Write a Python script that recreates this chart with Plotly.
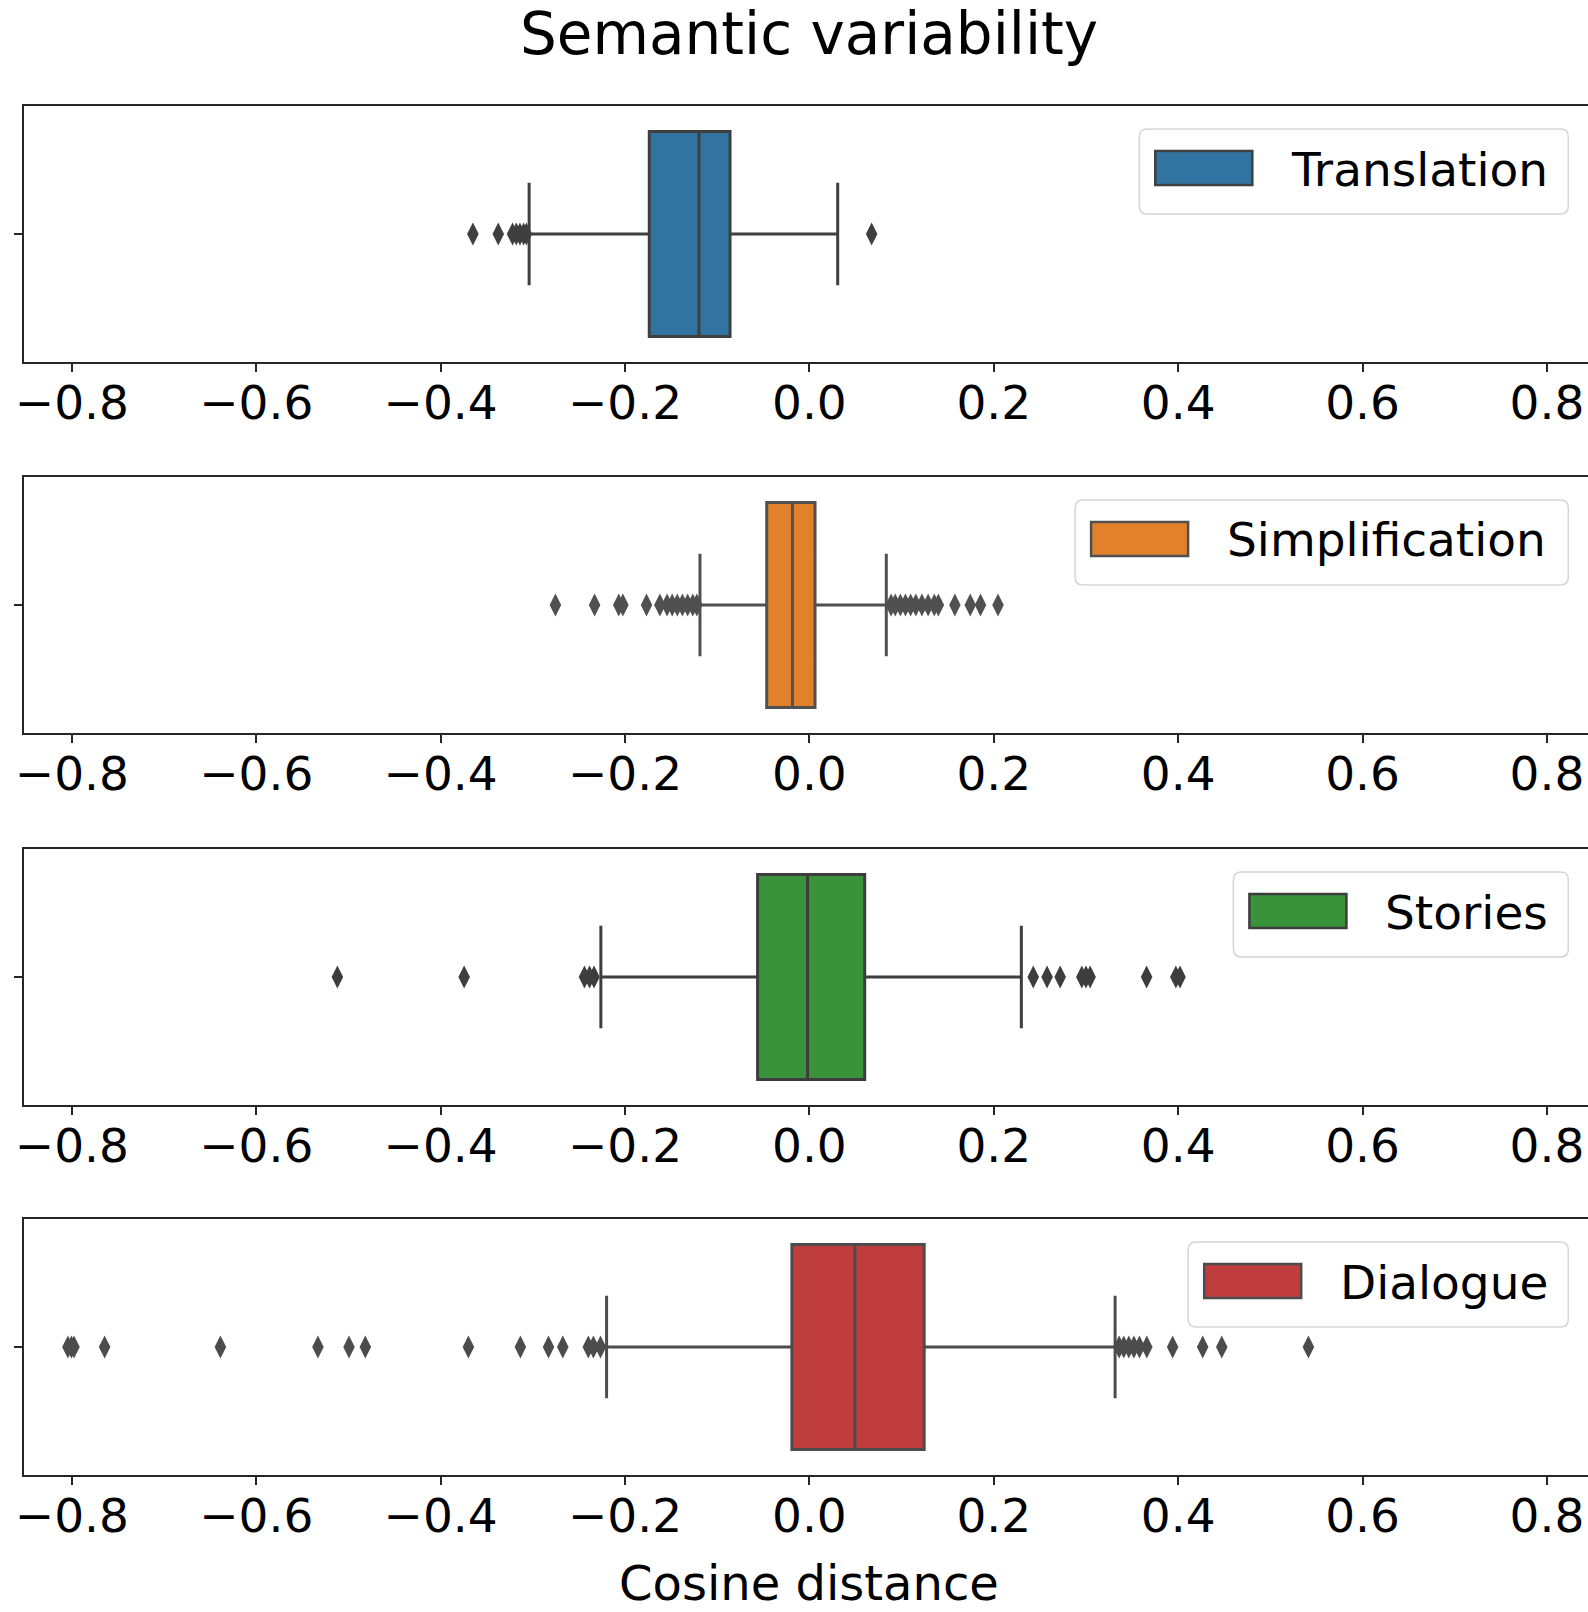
import plotly.graph_objects as go

# ---------------- data ----------------
categories = ["Translation", "Simplification", "Stories", "Dialogue"]

q1 = [-0.1737, -0.0463, -0.0562, -0.0190]
median = [-0.1198, -0.0184, -0.0020, 0.0493]
q3 = [-0.0861, 0.0061, 0.0600, 0.1245]
whisker_low = [-0.3040, -0.1187, -0.2262, -0.2200]
whisker_high = [0.0307, 0.0834, 0.2299, 0.3316]

outliers_translation = [-0.365, -0.3375, -0.322, -0.318, -0.314, -0.310, -0.307, 0.0675]
outliers_simplification = [-0.2755, -0.2330, -0.2068, -0.2023, -0.1767, -0.1622, -0.1544,
                           -0.1488, -0.1433, -0.1377, -0.1321, -0.1265, -0.1221,
                           0.0886, 0.0931, 0.0987, 0.1042, 0.1098, 0.1154, 0.1221, 0.1288,
                           0.1355, 0.1399, 0.1578, 0.1745, 0.1856, 0.2046]
outliers_stories = [-0.512, -0.3745, -0.2440, -0.2385, -0.2336,
                    0.2428, 0.2578, 0.2720, 0.2955, 0.3000, 0.3045, 0.3658, 0.3975, 0.4020]
outliers_dialogue = [-0.8043, -0.8005, -0.7977, -0.7645, -0.6389, -0.5331, -0.4994, -0.4817,
                     -0.3699, -0.3135, -0.2830, -0.2675, -0.2398, -0.2343, -0.2266,
                     0.3360, 0.3410, 0.3465, 0.3520, 0.3580, 0.3660, 0.3940, 0.4266,
                     0.4473, 0.5413]
outliers = [outliers_translation, outliers_simplification, outliers_stories, outliers_dialogue]

x_tick_values = [-0.8, -0.6, -0.4, -0.2, 0.0, 0.2, 0.4, 0.6, 0.8]
x_tick_labels = ["\u22120.8", "\u22120.6", "\u22120.4", "\u22120.2", "0.0", "0.2", "0.4", "0.6", "0.8"]

title_text = "Semantic variability"
x_label = "Cosine distance"

# ---------------- style / layout ----------------
colors = ["#3274a1", "#e1812c", "#3a923a", "#c03d3e"]
line_colors = ["#3f3f3f", "#505050", "#3d3d3d", "#4c4c4c"]
FONT = "DejaVu Sans"
OFF = 0                      # page body margin (removed by post_script)
W, H = 1588 - 2 * OFF, 1612 - 2 * OFF
panel_tops = [106, 477, 849, 1219]   # positions in page pixels
panel_h = 256
x_left_px = 23.6
x_right_px = OFF + W
x_per_unit = 921.9
x_zero_px = 809.4
x_range = [(x_left_px - x_zero_px) / x_per_unit, (x_right_px - x_zero_px) / x_per_unit]
legend_left_px = [1139.3, 1075.1, 1233.4, 1188.2]
legend_right_px = 1568.3


def px(x):
    return (x - OFF) / W


def py(y):
    return 1 - (y - OFF) / H


fig = go.Figure()
layout_axes = {}
for i, cat in enumerate(categories):
    n = i + 1
    xa = "x" if n == 1 else f"x{n}"
    ya = "y" if n == 1 else f"y{n}"
    fig.add_trace(go.Box(
        orientation="h", y=[cat],
        q1=[q1[i]], median=[median[i]], q3=[q3[i]],
        lowerfence=[whisker_low[i]], upperfence=[whisker_high[i]],
        width=0.8, whiskerwidth=0.5, boxpoints=False,
        fillcolor=colors[i], line=dict(color=line_colors[i], width=3),
        xaxis=xa, yaxis=ya, name=cat, hoverinfo="skip",
    ))
    fig.add_trace(go.Scatter(
        x=outliers[i], y=[cat] * len(outliers[i]), mode="markers",
        marker=dict(symbol="diamond-tall", size=16.5, color=line_colors[i], line=dict(width=0)),
        xaxis=xa, yaxis=ya, name=cat, hoverinfo="skip",
    ))
    top = panel_tops[i]
    dom_y = [py(top + panel_h), py(top)]
    xkey = "xaxis" if n == 1 else f"xaxis{n}"
    ykey = "yaxis" if n == 1 else f"yaxis{n}"
    layout_axes[xkey] = dict(
        domain=[px(x_left_px), 1.0], range=x_range, anchor=ya, automargin=False,
        tickvals=x_tick_values, ticktext=x_tick_labels, ticklabeloverflow="allow",
        showline=True, mirror=True, linecolor="#262626", linewidth=2,
        ticks="outside", ticklen=8, tickwidth=2, tickcolor="#262626",
        ticklabelstandoff=-9,
        tickfont=dict(family=FONT, size=47, color="black"),
        showgrid=False, zeroline=False, fixedrange=True,
    )
    layout_axes[ykey] = dict(
        domain=dom_y, range=[-0.5, 0.5], anchor=xa, type="category", automargin=False,
        showticklabels=False,
        showline=True, mirror=False, linecolor="#262626", linewidth=2,
        ticks="outside", ticklen=8, tickwidth=2, tickcolor="#262626",
        showgrid=False, zeroline=False, fixedrange=True,
    )

shapes = []
annotations = []


def rrect_path(x0, y0, x1, y1, r):
    pts = [
        f"M {px(x0 + r)},{py(y0)}",
        f"L {px(x1 - r)},{py(y0)}",
        f"Q {px(x1)},{py(y0)} {px(x1)},{py(y0 + r)}",
        f"L {px(x1)},{py(y1 - r)}",
        f"Q {px(x1)},{py(y1)} {px(x1 - r)},{py(y1)}",
        f"L {px(x0 + r)},{py(y1)}",
        f"Q {px(x0)},{py(y1)} {px(x0)},{py(y1 - r)}",
        f"L {px(x0)},{py(y0 + r)}",
        f"Q {px(x0)},{py(y0)} {px(x0 + r)},{py(y0)}",
        "Z",
    ]
    return " ".join(pts)


for i, cat in enumerate(categories):
    top = panel_tops[i]
    lx0 = legend_left_px[i]
    shapes.append(dict(
        type="path", xref="paper", yref="paper",
        path=rrect_path(lx0, top + 23, legend_right_px, top + 108, 8),
        fillcolor="rgba(255,255,255,0.8)", line=dict(color="#d5d5d5", width=1.5), layer="above",
    ))
    shapes.append(dict(
        type="rect", xref="paper", yref="paper",
        x0=px(lx0 + 16), x1=px(lx0 + 113), y0=py(top + 79), y1=py(top + 45),
        fillcolor=colors[i], line=dict(color=line_colors[i], width=2.5), layer="above",
    ))
    annotations.append(dict(
        text=cat, xref="paper", yref="paper", x=px(lx0 + 150), y=py(top + 63),
        xanchor="left", yanchor="middle", showarrow=False,
        font=dict(family=FONT, size=47, color="black"),
    ))

annotations.append(dict(
    text=title_text, xref="paper", yref="paper", x=px(x_zero_px), y=py(34),
    xanchor="center", yanchor="middle", showarrow=False,
    font=dict(family=FONT, size=58, color="black"),
))
annotations.append(dict(
    text=x_label, xref="paper", yref="paper", x=px(x_zero_px), y=py(1583),
    xanchor="center", yanchor="middle", showarrow=False,
    font=dict(family=FONT, size=48, color="black"),
))

fig.update_layout(
    width=W, height=H, margin=dict(l=0, r=0, t=0, b=0, pad=0, autoexpand=False),
    paper_bgcolor="white", plot_bgcolor="white", showlegend=False,
    shapes=shapes, annotations=annotations,
    **layout_axes,
)

fig.write_html(
    "out.html",
    config={"displayModeBar": False, "staticPlot": True},
    post_script="document.body.style.margin='0px';document.body.style.overflow='hidden';",
)
